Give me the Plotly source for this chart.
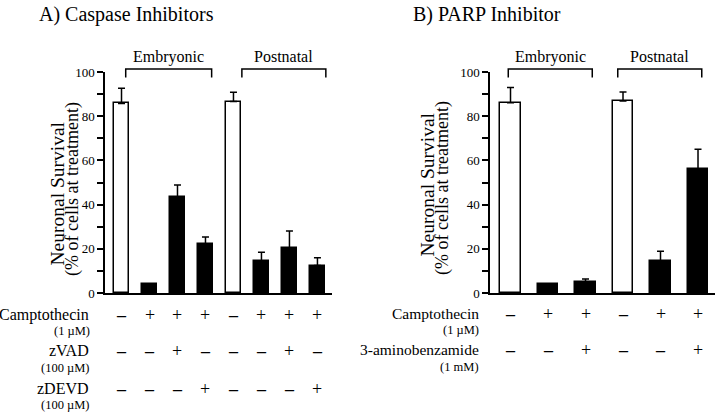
import plotly.graph_objects as go

# ---------------- data ----------------
# Panel A: caspase inhibitors
a_survival = [85.8, 4.0, 43.3, 22.3, 86.6, 14.3, 20.2, 12.4]
a_error = [6.8, 0.0, 5.6, 3.0, 4.2, 4.1, 7.8, 3.6]
a_campto = ["-", "+", "+", "+", "-", "+", "+", "+"]
a_zvad = ["-", "-", "+", "-", "-", "-", "+", "-"]
a_zdevd = ["-", "-", "-", "+", "-", "-", "-", "+"]
a_groups = [("Embryonic", 0.15, 3.22), ("Postnatal", 4.3, 7.3)]

# Panel B: PARP inhibitor
b_survival = [86.1, 4.1, 5.0, 86.9, 14.6, 56.0]
b_error = [6.9, 0.0, 1.3, 4.1, 4.3, 9.0]
b_campto = ["-", "+", "+", "-", "+", "+"]
b_amino = ["-", "-", "+", "-", "-", "+"]
b_groups = [("Embryonic", -0.06, 2.18), ("Postnatal", 2.86, 5.1)]

y_ticks = [0, 20, 40, 60, 80, 100]

# ---------------- layout geometry ----------------
W, H = 720, 413
FONT = "Liberation Serif, Times New Roman, serif"
a_xrange = [-0.59, 7.52]
b_xrange = [-0.547, 5.453]
y_range = [0, 100]


def px(p):
    return p / W


def py(p):
    return 1 - p / H


fig = go.Figure()


def add_bars(vals, errs, campto, xa, ya):
    n = len(vals)
    colors = ["white" if c == "-" else "black" for c in campto]
    fig.add_trace(go.Bar(
        x=list(range(n)), y=vals, width=0.55,
        marker=dict(color=colors, line=dict(color="black", width=1.5)),
        error_y=dict(type="data", symmetric=False, array=errs,
                     arrayminus=[0] * n, width=3.5, thickness=1.5,
                     color="black"),
        xaxis=xa, yaxis=ya, showlegend=False, hoverinfo="y",
    ))


add_bars(a_survival, a_error, a_campto, "x", "y")
add_bars(b_survival, b_error, b_campto, "x2", "y2")

axis_common = dict(showline=True, linecolor="black", linewidth=1.5,
                   showgrid=False, zeroline=False)
yaxis_common = dict(
    **axis_common, range=y_range, tickvals=y_ticks, ticks="outside",
    ticklen=6, tickwidth=1.5, tickcolor="black",
    minor=dict(dtick=10, ticks="outside", ticklen=6, tickwidth=1.5,
               tickcolor="black"),
    tickfont=dict(family=FONT, size=13, color="black"),
)

ydom = [py(293), py(72)]
fig.update_layout(
    width=W, height=H,
    margin=dict(l=0, r=0, t=0, b=0, pad=0, autoexpand=False),
    paper_bgcolor="white", plot_bgcolor="white",
    bargap=0,
    xaxis=dict(**axis_common, domain=[px(105), px(332)], range=a_xrange,
               showticklabels=False, ticks=""),
    yaxis=dict(**yaxis_common, domain=ydom, anchor="x"),
    xaxis2=dict(**axis_common, domain=[px(490), px(715)], range=b_xrange,
                showticklabels=False, ticks="", anchor="y2"),
    yaxis2=dict(**yaxis_common, domain=ydom, anchor="x2"),
    font=dict(family=FONT, color="black"),
)

annotations = []
shapes = []


def txt(text, x, y, size, xanchor="center", yanchor="middle", angle=0,
        xref="paper", yref="paper"):
    annotations.append(dict(text=text, x=x, y=y, xref=xref, yref=yref,
                            xanchor=xanchor, yanchor=yanchor,
                            textangle=angle, showarrow=False,
                            font=dict(family=FONT, size=size, color="black")))


# Panel titles
txt("A) Caspase Inhibitors", px(37), py(14), 20, xanchor="left")
txt("B) PARP Inhibitor", px(411), py(14), 20, xanchor="left")

# Y titles
txt("Neuronal Survival", px(57), py(193.5), 19.5, angle=-90)
txt("(% of cells at treatment)", px(72.5), py(189.5), 18, angle=-90)
txt("Neuronal Survival", px(426.5), py(185), 19.5, angle=-90)
txt("(% of cells at treatment)", px(442), py(188), 18, angle=-90)


# Group brackets
def brackets(groups, xrange_, xdom):
    for name, x0, x1 in groups:
        f0 = (x0 - xrange_[0]) / (xrange_[1] - xrange_[0])
        f1 = (x1 - xrange_[0]) / (xrange_[1] - xrange_[0])
        top = (101.4 - y_range[0]) / (y_range[1] - y_range[0])
        leg = (97.5 - y_range[0]) / (y_range[1] - y_range[0])
        shapes.append(dict(type="path", xref=xdom, yref=xdom.replace("x", "y"),
                           path=f"M {f0} {leg} L {f0} {top} L {f1} {top} L {f1} {leg}",
                           line=dict(color="black", width=1.5)))
        lab = (106.9 - y_range[0]) / (y_range[1] - y_range[0])
        txt(name, (f0 + f1) / 2, lab, 16, xref=xdom,
            yref=xdom.replace("x", "y"))


brackets(a_groups, a_xrange, "x domain")
brackets(b_groups, b_xrange, "x2 domain")


# Treatment rows
def sym(s):
    return "+" if s == "+" else "<b>–</b>"


def row(label, unit, flags, xref, label_x, y_label, y_unit, size):
    txt(label, px(label_x), py(y_label), size, xanchor="right")
    txt(unit, px(label_x + 1), py(y_unit), 12.5, xanchor="right")
    for i, f in enumerate(flags):
        txt(sym(f), i, py(y_label), 18, xref=xref)


row("Camptothecin", "(1 µM)", a_campto, "x", 91, 314.5, 331, 16)
row("zVAD", "(100 µM)", a_zvad, "x", 91, 350.5, 367.5, 16)
row("zDEVD", "(100 µM)", a_zdevd, "x", 91, 388.5, 405, 16)
row("Camptothecin", "(1 µM)", b_campto, "x2", 480.5, 313.5, 330, 15.5)
row("3-aminobenzamide", "(1 mM)", b_amino, "x2", 480.5, 349.5, 366.5, 15.5)

fig.update_layout(annotations=annotations, shapes=shapes)
fig.write_html(
    "out.html",
    config={"displayModeBar": False},
    post_script="document.body.style.margin='0';"
                "document.body.style.padding='0';"
                "document.body.style.overflow='hidden';",
)
